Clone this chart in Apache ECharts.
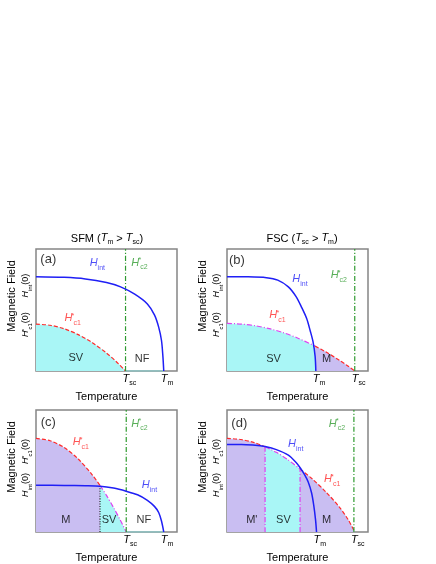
<!DOCTYPE html>
<html>
<head>
<meta charset="utf-8">
<script src="https://cdn.jsdelivr.net/npm/echarts@6/dist/echarts.min.js"></script>
<style>
  html, body { margin: 0; padding: 0; background: #fff; }
  #chart { width: 436px; height: 564px; }
</style>
</head>
<body>
<div id="chart"></div>
<script>
// ---- data (x = T, y = H, both as fraction of the frame) ----

// (a) SFM, Tm > Tsc
const hintA = [[0, 0.773], [0.2, 0.768], [0.35, 0.755], [0.5, 0.725], [0.6, 0.69], [0.7, 0.63], [0.79, 0.55], [0.84, 0.46], [0.87, 0.36], [0.89, 0.25], [0.9, 0.12], [0.906, 0]]
const hc1A = [[0, 0.384], [0.1, 0.375], [0.2, 0.346], [0.3, 0.298], [0.4, 0.232], [0.5, 0.147], [0.57, 0.076], [0.635, 0]]
const tscA = 0.635
const tmA = 0.906

// (b) FSC, Tsc > Tm
const hintB = [[0, 0.773], [0.15, 0.772], [0.28, 0.765], [0.36, 0.745], [0.435, 0.69], [0.49, 0.61], [0.53, 0.52], [0.565, 0.43], [0.59, 0.33], [0.61, 0.24], [0.625, 0.12], [0.63, 0]]
const hc1B_sv = [[0, 0.39], [0.1, 0.385], [0.2, 0.371], [0.3, 0.347], [0.4, 0.314], [0.5, 0.271], [0.625, 0.204]]
const hc1B_m = [[0.625, 0.204], [0.7, 0.157], [0.8, 0.086], [0.86, 0.039], [0.906, 0]]
const tmB = 0.63
const tscB = 0.906

// (c) SFM, Tm > Tsc, strong SC
const hintC = [[0, 0.384], [0.2, 0.382], [0.35, 0.38], [0.454, 0.376], [0.55, 0.36], [0.64, 0.334], [0.72, 0.305], [0.79, 0.26], [0.84, 0.21], [0.87, 0.16], [0.89, 0.09], [0.906, 0]]
const hc1C_m = [[0, 0.767], [0.1, 0.748], [0.2, 0.692], [0.3, 0.598], [0.4, 0.467], [0.454, 0.381]]
const hc1C_sv = [[0.454, 0.381], [0.5, 0.3], [0.55, 0.2], [0.6, 0.093], [0.64, 0]]
const splitC = 0.454
const tscC = 0.64
const tmC = 0.906

// (d) FSC, Tsc > Tm, strong SC
const hintD = [[0, 0.718], [0.1, 0.717], [0.2, 0.712], [0.27, 0.7], [0.35, 0.675], [0.435, 0.63], [0.49, 0.57], [0.52, 0.525], [0.55, 0.47], [0.576, 0.41], [0.6, 0.32], [0.615, 0.22], [0.628, 0.1], [0.635, 0]]
const hc1D_m1 = [[0, 0.767], [0.1, 0.758], [0.2, 0.73], [0.27, 0.699]]
const hc1D_sv = [[0.27, 0.699], [0.35, 0.653], [0.43, 0.594], [0.518, 0.516]]
const hc1D_m2 = [[0.518, 0.516], [0.6, 0.44], [0.7, 0.33], [0.8, 0.2], [0.86, 0.1], [0.906, 0]]
const splitD = [0.27, 0.518]
const tmD = 0.635
const tscD = 0.9

// tick labels under each frame
const xTickLabels = [
  ['{it|T}{sub|sc}', '{it|T}{sub|m}'],
  ['{it|T}{sub|m}', '{it|T}{sub|sc}'],
  ['{it|T}{sub|sc}', '{it|T}{sub|m}'],
  ['{it|T}{sub|m}', '{it|T}{sub|sc}']
]
const xTickValues = [[tscA, tmA], [tmB, tscB], [tscC, tmC], [tmD, tscD]]

// labels beside the y axis
const HINT0 = '{yit|H}{ysub|int}{yn|(0)}'
const HC10 = '{yit|H}{ysup|*}{ysub|c1}{yn|(0)}'
const yTickValues = [[0.38, 0.70], [0.38, 0.70], [0.385, 0.66], [0.385, 0.66]]
const yTickLabels = [[HC10, HINT0], [HC10, HINT0], [HINT0, HC10], [HINT0, HC10]]

// in-plot annotations [x, y, text]
const HINT = '{hit|H}{hsub|int}'
const HC1 = '{hit|H}{hsup|*}{hsub|c1}'
const HC2 = '{hit|H}{hsup|*}{hsub|c2}'
const notesA = [[0.087, 0.915, '{pl|(a)}'], [0.435, 0.87, HINT], [0.734, 0.877, HC2], [0.26, 0.425, HC1], [0.282, 0.11, '{t|SV}'], [0.753, 0.1, '{t|NF}']]
const notesB = [[0.07, 0.905, '{pl|(b)}'], [0.518, 0.745, HINT], [0.793, 0.775, HC2], [0.358, 0.444, HC1], [0.33, 0.096, '{t|SV}'], [0.706, 0.096, '{t|M}']]
const notesC = [[0.087, 0.9, '{pl|(c)}'], [0.734, 0.877, HC2], [0.318, 0.726, HC1], [0.805, 0.37, HINT], [0.212, 0.096, '{t|M}'], [0.518, 0.096, '{t|SV}'], [0.765, 0.096, '{t|NF}']]
const notesD = [[0.087, 0.89, '{pl|(d)}'], [0.487, 0.707, HINT], [0.78, 0.877, HC2], [0.746, 0.425, HC1], [0.176, 0.096, "{t|M'}"], [0.4, 0.096, '{t|SV}'], [0.706, 0.096, '{t|M}']]

const titles = ['SFM ({tit|T}{tsub|m} > {tit|T}{tsub|sc})', 'FSC ({tit|T}{tsub|sc} > {tit|T}{tsub|m})']

// ---- styles ----
const FONT = 'Liberation Sans'
const BLUE = '#1f1ff5'
const RED = '#ff2a2a'
const GREEN = '#2e9a2e'
const MAGENTA = '#e040f0'
const CYAN = '#a9f6f6'
const LAVENDER = '#c9bef2'
const TEAL = '#8cc8c8'

const grids = [
  {left: 36, top: 249, width: 141, height: 122},
  {left: 227, top: 249, width: 141, height: 122},
  {left: 36, top: 410, width: 141, height: 122},
  {left: 227, top: 410, width: 141, height: 122}
]

const richAll = {
  it: {fontFamily: FONT, fontStyle: 'italic', fontSize: 11, lineHeight: 14, verticalAlign: 'top', color: '#000'},
  sub: {fontFamily: FONT, fontSize: 7, lineHeight: 14, verticalAlign: 'bottom', color: '#000'},
  yit: {fontFamily: FONT, fontStyle: 'italic', fontSize: 9, lineHeight: 12, verticalAlign: 'top', color: '#000'},
  ysub: {fontFamily: FONT, fontSize: 6, lineHeight: 12, verticalAlign: 'bottom', color: '#000'},
  ysup: {fontFamily: FONT, fontSize: 6, lineHeight: 12, verticalAlign: 'top', width: 1, color: '#000'},
  yn: {fontFamily: FONT, fontSize: 9, lineHeight: 12, verticalAlign: 'top', color: '#000'}
}

function panelAxes(i) {
  const x = {
    gridIndex: i, type: 'value', min: 0, max: 1,
    name: 'Temperature', nameLocation: 'middle', nameGap: 20,
    nameTextStyle: {fontFamily: FONT, fontSize: 11, color: '#000'},
    axisLine: {show: false}, axisTick: {show: false}, splitLine: {show: false},
    axisLabel: {
      customValues: xTickValues[i], margin: 2, align: 'left', padding: [0, 0, 0, -3],
      formatter: function (v) { return xTickLabels[i][xTickValues[i].indexOf(v)] },
      rich: richAll
    }
  }
  const y = {
    gridIndex: i, type: 'value', min: 0, max: 1,
    name: 'Magnetic Field', nameLocation: 'middle', nameGap: 19,
    nameTextStyle: {fontFamily: FONT, fontSize: 11, color: '#000', padding: [0, 0, 0, 28]},
    axisLine: {show: false}, axisTick: {show: false}, splitLine: {show: false},
    axisLabel: {
      customValues: yTickValues[i], margin: 3, rotate: 90,
      formatter: function (v) { return yTickLabels[i][yTickValues[i].indexOf(v)] },
      rich: richAll
    }
  }
  return [x, y]
}

const xAxes = []
const yAxes = []
for (let i = 0; i < 4; i++) {
  const a = panelAxes(i)
  xAxes.push(a[0])
  yAxes.push(a[1])
}

function curve(i, data, color, type, width, area, z) {
  return {
    type: 'line', xAxisIndex: i, yAxisIndex: i, data: data, smooth: 0.3,
    showSymbol: false, silent: true, z: z || 3,
    lineStyle: {color: color, width: width, type: type},
    areaStyle: area ? {color: area, opacity: 1} : undefined
  }
}

function vline(i, x, ytop, color, type) {
  return curve(i, [[x, 0], [x, ytop]], color, type, 1.2, null, 4)
}

const noteRich = {
  pl: {fontFamily: FONT, fontSize: 13, color: '#000'},
  t: {fontFamily: FONT, fontSize: 11, color: '#000'},
  hit: {fontFamily: FONT, fontStyle: 'italic', fontSize: 11, lineHeight: 14, verticalAlign: 'top'},
  hsub: {fontFamily: FONT, fontSize: 7, lineHeight: 14, verticalAlign: 'bottom'},
  hsup: {fontFamily: FONT, fontSize: 7, lineHeight: 14, verticalAlign: 'top', width: 1}
}

function notes(i, list) {
  return {
    type: 'scatter', xAxisIndex: i, yAxisIndex: i, symbolSize: 0, silent: true, z: 6,
    data: list.map(function (n) {
      let color = '#000'
      if (n[2] === HINT) color = BLUE
      if (n[2] === HC1) color = RED
      if (n[2] === HC2) color = GREEN
      return {value: [n[0], n[1]], name: n[2], label: {color: color}}
    }),
    label: {
      show: true, position: [0, 0], align: 'center', verticalAlign: 'middle',
      formatter: function (p) { return p.name },
      rich: noteRich
    }
  }
}

const DASH = [4, 2]
const DASHDOT = [5, 2, 1, 2]
const DOT = [1, 1.5]

const series = [
  // (a)
  curve(0, hc1A, RED, DASH, 1.2, CYAN, 2),
  curve(0, [[tscA, 0], [tmA, 0]], TEAL, 'solid', 1.5, null, 3),
  vline(0, tscA, 1, GREEN, DASHDOT),
  curve(0, hintA, BLUE, 'solid', 1.5, null, 5),
  notes(0, notesA),
  // (b)
  curve(1, hc1B_sv, MAGENTA, DASHDOT, 1.2, CYAN, 2),
  curve(1, hc1B_m, RED, DASH, 1.2, LAVENDER, 2),
  vline(1, tscB, 1, GREEN, DASHDOT),
  curve(1, hintB, BLUE, 'solid', 1.5, null, 5),
  notes(1, notesB),
  // (c)
  curve(2, hc1C_m, RED, DASH, 1.2, LAVENDER, 2),
  curve(2, hc1C_sv, MAGENTA, DASHDOT, 1.2, CYAN, 2),
  curve(2, [[tscC, 0], [tmC, 0]], TEAL, 'solid', 1.5, null, 3),
  vline(2, splitC, hc1C_sv[0][1], '#222', DOT),
  vline(2, tscC, 1, GREEN, DASHDOT),
  curve(2, hintC, BLUE, 'solid', 1.5, null, 5),
  notes(2, notesC),
  // (d)
  curve(3, hc1D_m1, RED, DASH, 1.2, LAVENDER, 2),
  curve(3, hc1D_sv, MAGENTA, DASHDOT, 1.2, CYAN, 2),
  curve(3, hc1D_m2, RED, DASH, 1.2, LAVENDER, 2),
  vline(3, splitD[0], hc1D_sv[0][1], MAGENTA, DASHDOT),
  vline(3, splitD[1], hc1D_sv[hc1D_sv.length - 1][1], MAGENTA, DASHDOT),
  vline(3, tscD, 1, GREEN, DASHDOT),
  curve(3, hintD, BLUE, 'solid', 1.5, null, 5),
  notes(3, notesD)
]

const titleRich = {
  tit: {fontFamily: FONT, fontStyle: 'italic', fontSize: 11, lineHeight: 14, verticalAlign: 'top', color: '#000'},
  tsub: {fontFamily: FONT, fontSize: 7, lineHeight: 14, verticalAlign: 'bottom', color: '#000'}
}

const chart = echarts.init(document.getElementById('chart'), null, {renderer: 'canvas'})
chart.setOption({
  backgroundColor: '#fff',
  animation: false,
  title: [
    {text: titles[0], left: 102, top: 227, textAlign: 'center',
      textStyle: {fontFamily: FONT, fontSize: 11, fontWeight: 'normal', color: '#000', lineHeight: 14, rich: titleRich}},
    {text: titles[1], left: 297, top: 227, textAlign: 'center',
      textStyle: {fontFamily: FONT, fontSize: 11, fontWeight: 'normal', color: '#000', lineHeight: 14, rich: titleRich}}
  ],
  grid: grids.map(function (g) {
    return Object.assign({show: true, borderColor: '#858585', borderWidth: 1.5, backgroundColor: '#fff'}, g)
  }),
  xAxis: xAxes,
  yAxis: yAxes,
  series: series
})
</script>
</body>
</html>
